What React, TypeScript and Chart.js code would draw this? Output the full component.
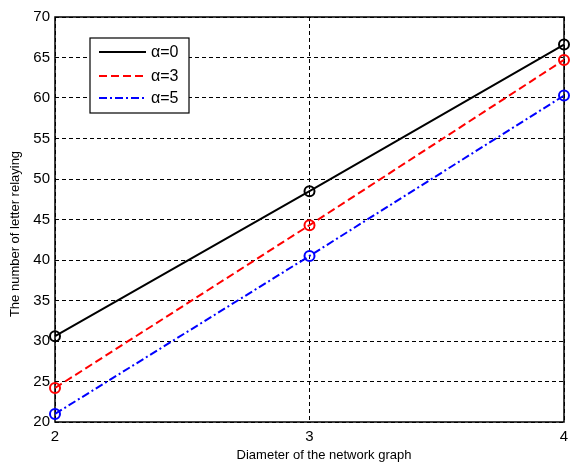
import React, { useEffect, useRef } from "react";
import { Chart, registerables } from "chart.js";

Chart.register(...registerables);

const diameters = [2, 3, 4];
const alpha0 = [30.6, 48.5, 66.6];
const alpha3 = [24.2, 44.3, 64.7];
const alpha5 = [21.0, 40.5, 60.3];
const seriesLabels = ["α=0", "α=3", "α=5"];
const yTicks = [20, 25, 30, 35, 40, 45, 50, 55, 60, 65, 70];
const xTitle = "Diameter of the network graph";
const yTitle = "The number of letter relaying";

const FONT = "'Liberation Sans', Arial, sans-serif";

const framePlugin = {
  id: "frame",
  beforeDatasetsDraw(chart: any) {
    const { ctx, chartArea: a } = chart;
    ctx.save();
    ctx.strokeStyle = "#000";
    ctx.lineWidth = 1.5;
    ctx.setLineDash([]);
    ctx.strokeRect(a.left, a.top, a.right - a.left, a.bottom - a.top);
    ctx.restore();
  },
  afterDraw(chart: any) {
    const { ctx } = chart;
    ctx.save();
    // axis titles
    ctx.fillStyle = "#000";
    ctx.font = `13px ${FONT}`;
    ctx.textAlign = "center";
    ctx.textBaseline = "middle";
    ctx.fillText(xTitle, 324, 455);
    ctx.save();
    ctx.translate(15, 234);
    ctx.rotate(-Math.PI / 2);
    ctx.fillText(yTitle, 0, 0);
    ctx.restore();
    // legend
    const bx = 90, by = 38, bw = 99, bh = 75;
    ctx.fillStyle = "#fff";
    ctx.fillRect(bx, by, bw, bh);
    ctx.strokeStyle = "#000";
    ctx.lineWidth = 1.2;
    ctx.strokeRect(bx, by, bw, bh);
    const rows = [52, 76, 98];
    chart.data.datasets.forEach((ds: any, i: number) => {
      ctx.beginPath();
      ctx.strokeStyle = ds.borderColor;
      ctx.lineWidth = 2;
      ctx.setLineDash(ds.borderDash || []);
      ctx.moveTo(99, rows[i]);
      ctx.lineTo(146, rows[i]);
      ctx.stroke();
      ctx.setLineDash([]);
      ctx.fillStyle = "#000";
      ctx.font = `16px ${FONT}`;
      ctx.textBaseline = "middle";
      ctx.textAlign = "left";
      ctx.fillText(ds.label, 151, rows[i] + 1);
    });
    ctx.restore();
  },
};

export default function App() {
  const ref = useRef<HTMLCanvasElement>(null);
  useEffect(() => {
    const mk = (label: string, vals: number[], color: string, dash: number[]) => ({
      label,
      data: diameters.map((d, i) => ({ x: d, y: vals[i] })),
      borderColor: color,
      backgroundColor: "transparent",
      borderWidth: 2,
      borderDash: dash,
      pointRadius: 5,
      pointBorderWidth: 2,
      pointBorderColor: color,
      pointBackgroundColor: "transparent",
      pointStyle: "circle",
      tension: 0,
      clip: false as any,
    });
    const chart = new Chart(ref.current!, {
      type: "line",
      data: {
        datasets: [
          mk(seriesLabels[0], alpha0, "#000000", []),
          mk(seriesLabels[1], alpha3, "#ff0000", [8, 4]),
          mk(seriesLabels[2], alpha5, "#0000ff", [8, 3, 2, 3]),
        ],
      },
      options: {
        animation: false,
        responsive: true,
        maintainAspectRatio: false,
        layout: { padding: { top: 17, right: 4, left: 0, bottom: 0 } },
        plugins: { legend: { display: false }, tooltip: { enabled: false } },
        scales: {
          x: {
            type: "linear",
            min: 2,
            max: 4,
            afterBuildTicks: (s: any) => {
              s.ticks = diameters.map((v) => ({ value: v }));
            },
            afterFit: (s: any) => {
              s.height = 41;
              s.paddingLeft = 0;
              s.paddingRight = 0;
            },
            grid: { color: "#000", lineWidth: 1, drawTicks: false },
            border: { display: false, dash: [4, 3] },
            ticks: { color: "#000", font: { family: FONT, size: 15 }, padding: 6, maxRotation: 0 },
            title: { display: false },
          },
          y: {
            min: 20,
            max: 70,
            afterBuildTicks: (s: any) => {
              s.ticks = yTicks.map((v) => ({ value: v }));
            },
            afterFit: (s: any) => {
              s.width = 55;
              s.paddingTop = 0;
              s.paddingBottom = 0;
            },
            grid: { color: "#000", lineWidth: 1, drawTicks: false },
            border: { display: false, dash: [4, 3] },
            ticks: { color: "#000", font: { family: FONT, size: 15 }, padding: 5 },
            title: { display: false },
          },
        },
      },
      plugins: [framePlugin],
    });
    return () => chart.destroy();
  }, []);
  return (
    <div style={{ position: "absolute", left: 0, top: 0, width: 571, height: 463, background: "#fff" }}>
      <canvas ref={ref} />
    </div>
  );
}
